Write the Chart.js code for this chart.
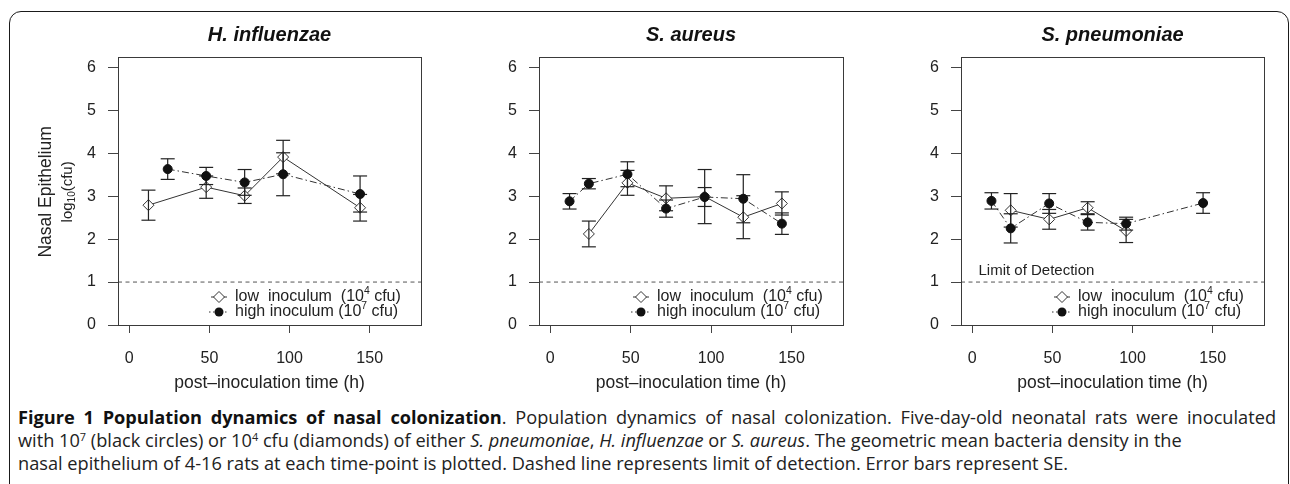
<!DOCTYPE html>
<html><head><meta charset="utf-8">
<script src="https://cdn.jsdelivr.net/npm/chart.js@4.4.1/dist/chart.umd.min.js"></script>
<style>
html,body{margin:0;padding:0;background:#fff;}
body{width:1290px;height:484px;position:relative;overflow:hidden;}
#frame{position:absolute;left:9px;top:11px;width:1280px;height:540px;border:1.5px solid #1a1a1a;border-radius:12px;box-sizing:border-box;}
.panel{position:absolute;top:0;width:430px;height:400px;}
.panel canvas{display:block;}
#caption{position:absolute;left:18px;top:406px;font-family:'Open Sans',sans-serif;font-size:15.5px;line-height:23px;color:#222;white-space:nowrap;}
#caption sup{font-size:0.6em;vertical-align:0.55em;line-height:0;}
#caption b{font-weight:700;color:#111;}
</style></head>
<body>
<div id="frame"></div>
<div class="panel" style="left:0px"><canvas id="c1" width="430" height="400"></canvas></div>
<div class="panel" style="left:430px"><canvas id="c2" width="430" height="400"></canvas></div>
<div class="panel" style="left:860px"><canvas id="c3" width="430" height="400"></canvas></div>
<div id="caption">
<div><span id="l1"><b>Figure 1 Population dynamics of nasal colonization</b>. Population dynamics of nasal colonization. Five-day-old neonatal rats were inoculated</span></div>
<div><span id="l2">with 10<sup>7</sup> (black circles) or 10<sup>4</sup> cfu (diamonds) of either <i>S. pneumoniae</i>, <i>H. influenzae</i> or <i>S. aureus</i>. The geometric mean bacteria density in the</span></div>
<div><span id="l3">nasal epithelium of 4-16 rats at each time-point is plotted. Dashed line represents limit of detection. Error bars represent SE.</span></div>
</div>
<script>
// ---------------- data ----------------
const panelTitles = ['H. influenzae', 'S. aureus', 'S. pneumoniae'];
const xTicks = [0, 50, 100, 150];
const yTicks = [0, 1, 2, 3, 4, 5, 6];
const limitOfDetection = 1;
const xAxisTitle = 'post\u2013inoculation time (h)';
const yAxisTitle = 'Nasal Epithelium';
const legendLow = ['low  inoculum  (10', '4', ' cfu)'];
const legendHigh = ['high inoculum (10', '7', ' cfu)'];
const lodLabel = 'Limit of Detection';

// H. influenzae
const hinfLowTime  = [12, 48, 72, 96, 144];
const hinfLowMean  = [2.79, 3.21, 3.01, 3.91, 2.73];
const hinfLowSE    = [0.35, 0.26, 0.18, 0.39, 0.31];
const hinfHighTime = [24, 48, 72, 96, 144];
const hinfHighMean = [3.63, 3.47, 3.32, 3.51, 3.05];
const hinfHighSE   = [0.24, 0.20, 0.30, 0.50, 0.42];
// S. aureus
const saurLowTime  = [24, 48, 72, 96, 120, 144];
const saurLowMean  = [2.12, 3.31, 2.95, 2.99, 2.51, 2.83];
const saurLowSE    = [0.30, 0.29, 0.29, 0.63, 0.50, 0.27];
const saurHighTime = [12, 24, 48, 72, 96, 120, 144];
const saurHighMean = [2.88, 3.29, 3.51, 2.71, 2.98, 2.94, 2.36];
const saurHighSE   = [0.18, 0.12, 0.29, 0.20, 0.22, 0.56, 0.25];
// S. pneumoniae
const spneLowTime  = [24, 48, 72, 96];
const spneLowMean  = [2.67, 2.46, 2.73, 2.19];
const spneLowSE    = [0.39, 0.23, 0.14, 0.27];
const spneHighTime = [12, 24, 48, 72, 96, 144];
const spneHighMean = [2.89, 2.25, 2.83, 2.39, 2.36, 2.84];
const spneHighSE   = [0.19, 0.34, 0.23, 0.18, 0.15, 0.24];

// ---------------- helpers ----------------
const FONT = "'Liberation Sans', Arial, Helvetica, sans-serif";
const X_MIN = -7, X_MAX = 182, Y_MIN = 0, Y_MAX = 6.24;
const pts = (t, m) => t.map((x, i) => ({x, y: m[i]}));
function stems(t, m, se) {
  const out = [];
  t.forEach((x, i) => { out.push({x, y: m[i] - se[i]}, {x, y: m[i] + se[i]}, {x, y: null}); });
  return out;
}
function caps(t, m, se) {
  const out = [];
  t.forEach((x, i) => { out.push({x, y: m[i] - se[i]}, {x, y: m[i] + se[i]}); });
  return out;
}

function drawParts(ctx, x, y, parts, size) {
  let cx = x;
  parts.forEach((p, i) => {
    const sup = i === 1;
    ctx.font = (sup ? size * 0.65 : size) + 'px ' + FONT;
    ctx.fillText(p, cx, sup ? y - size * 0.38 : y);
    cx += ctx.measureText(p).width;
  });
}

const panelPlugin = {
  id: 'panelExtras',
  afterDatasetsDraw(chart, args, opts) {
    const ctx = chart.ctx;
    const {left, right, top, bottom} = chart.chartArea;
    ctx.save();
    // box
    ctx.strokeStyle = '#3a3a3a';
    ctx.lineWidth = 1;
    ctx.setLineDash([]);
    ctx.strokeRect(Math.round(left) + 0.5, Math.round(top) + 0.5, Math.round(right - left), Math.round(bottom - top));
    // legend
    const mx = right - 202, tx = right - 186;
    const y1 = bottom - 28, y2 = bottom - 13;
    ctx.strokeStyle = '#333';
    ctx.lineWidth = 1;
    ctx.beginPath(); ctx.moveTo(mx - 8, y1); ctx.lineTo(mx + 8, y1); ctx.stroke();
    ctx.fillStyle = '#fff';
    ctx.beginPath(); ctx.moveTo(mx - 5.5, y1); ctx.lineTo(mx, y1 - 5.5); ctx.lineTo(mx + 5.5, y1); ctx.lineTo(mx, y1 + 5.5); ctx.closePath(); ctx.fill(); ctx.stroke();
    ctx.setLineDash([1.5, 2.5]);
    ctx.beginPath(); ctx.moveTo(mx - 10, y2); ctx.lineTo(mx + 10, y2); ctx.stroke();
    ctx.setLineDash([]);
    ctx.fillStyle = '#111';
    ctx.beginPath(); ctx.arc(mx, y2, 4.5, 0, Math.PI * 2); ctx.fill();
    ctx.fillStyle = '#222';
    ctx.textBaseline = 'middle';
    ctx.textAlign = 'left';
    drawParts(ctx, tx, y1, legendLow, 16);
    drawParts(ctx, tx, y2, legendHigh, 16);
    // limit of detection label
    if (opts.lod) {
      ctx.font = '15px ' + FONT;
      const xs = chart.scales.x, ys = chart.scales.y;
      ctx.fillText(lodLabel, xs.getPixelForValue(3.9), ys.getPixelForValue(1.26));
    }
    // y axis title
    if (opts.yTitle) {
      const ys = chart.scales.y;
      const cy = ys.getPixelForValue(3.1);
      ctx.save();
      ctx.translate(46, cy);
      ctx.rotate(-Math.PI / 2);
      ctx.textAlign = 'center';
      ctx.font = '17.5px ' + FONT;
      ctx.fillText(yAxisTitle, 0, 0);
      ctx.restore();
      ctx.save();
      ctx.translate(68, cy);
      ctx.rotate(-Math.PI / 2);
      ctx.textAlign = 'left';
      ctx.font = '15px ' + FONT;
      const w1 = ctx.measureText('log').width;
      const w3 = ctx.measureText('(cfu)').width;
      ctx.font = '10px ' + FONT;
      const w2 = ctx.measureText('10').width;
      let sx = -(w1 + w2 + w3) / 2;
      ctx.font = '15px ' + FONT; ctx.fillText('log', sx, 0); sx += w1;
      ctx.font = '10px ' + FONT; ctx.fillText('10', sx, 4); sx += w2;
      ctx.font = '15px ' + FONT; ctx.fillText('(cfu)', sx, 0);
      ctx.restore();
    }
    ctx.restore();
  }
};

function makePanel(id, title, low, high, yW, rightPad, extras) {
  const datasets = [
    {label: 'high', data: pts(high.t, high.m), showLine: false, pointStyle: 'circle', pointRadius: 4.5,
     pointBackgroundColor: '#111', pointBorderColor: '#111', pointBorderWidth: 1, order: 0},
    {label: 'capsLow', data: caps(low.t, low.m, low.se), showLine: false, pointStyle: 'line', pointRadius: 7,
     pointBorderColor: '#222', pointBorderWidth: 1.2, order: 1},
    {label: 'capsHigh', data: caps(high.t, high.m, high.se), showLine: false, pointStyle: 'line', pointRadius: 7,
     pointBorderColor: '#222', pointBorderWidth: 1.2, order: 1},
    {label: 'stemsLow', data: stems(low.t, low.m, low.se), borderColor: '#222', borderWidth: 1.2, pointRadius: 0, spanGaps: false, order: 2},
    {label: 'stemsHigh', data: stems(high.t, high.m, high.se), borderColor: '#222', borderWidth: 1.2, pointRadius: 0, spanGaps: false, order: 2},
    {label: 'low', data: pts(low.t, low.m), showLine: false, pointStyle: 'rectRot', pointRadius: 5.5,
     pointBackgroundColor: '#fff', pointBorderColor: '#333', pointBorderWidth: 1, order: 3},
    {label: 'lowLine', data: pts(low.t, low.m), borderColor: '#333', borderWidth: 1, pointRadius: 0, order: 4},
    {label: 'highLine', data: pts(high.t, high.m), borderColor: '#333', borderWidth: 1, borderDash: [7, 3, 1.5, 3], pointRadius: 0, order: 4},
    {label: 'lod', data: [{x: X_MIN, y: limitOfDetection}, {x: X_MAX, y: limitOfDetection}], borderColor: '#555', borderWidth: 1, borderDash: [4, 3.5], pointRadius: 0, order: 5}
  ];
  return new Chart(document.getElementById(id), {
    type: 'line',
    data: {datasets},
    plugins: [panelPlugin],
    options: {
      responsive: false, animation: false, events: [],
      layout: {padding: {left: 0, right: rightPad, top: 0, bottom: 0}},
      plugins: {
        legend: {display: false}, tooltip: {enabled: false},
        title: {display: true, text: title, fullSize: false, color: '#111',
          font: {family: FONT, size: 20, style: 'italic', weight: 'bold'}, padding: {top: 23, bottom: 10}},
        panelExtras: extras
      },
      scales: {
        x: {type: 'linear', min: X_MIN, max: X_MAX,
          afterBuildTicks: s => { s.ticks = xTicks.map(v => ({value: v})); },
          afterFit: s => { s.height = 75; },
          grid: {drawOnChartArea: false, drawTicks: true, tickLength: 8, color: '#444', lineWidth: 1},
          border: {display: false},
          ticks: {padding: 16, color: '#222', font: {family: FONT, size: 16}, maxRotation: 0, autoSkip: false},
          title: {display: true, text: xAxisTitle, color: '#222', font: {family: FONT, size: 17.5}, padding: {top: 0, bottom: 6}}
        },
        y: {type: 'linear', min: Y_MIN, max: Y_MAX,
          afterBuildTicks: s => { s.ticks = yTicks.map(v => ({value: v})); },
          afterFit: s => { s.width = yW; },
          grid: {drawOnChartArea: false, drawTicks: true, tickLength: 10, color: '#444', lineWidth: 1},
          border: {display: false},
          ticks: {padding: 12, color: '#222', font: {family: FONT, size: 16}}
        }
      }
    }
  });
}

makePanel('c1', panelTitles[0],
  {t: hinfLowTime, m: hinfLowMean, se: hinfLowSE}, {t: hinfHighTime, m: hinfHighMean, se: hinfHighSE},
  118, 9, {yTitle: true, lod: false});
makePanel('c2', panelTitles[1],
  {t: saurLowTime, m: saurLowMean, se: saurLowSE}, {t: saurHighTime, m: saurHighMean, se: saurHighSE},
  109, 17, {yTitle: false, lod: false});
makePanel('c3', panelTitles[2],
  {t: spneLowTime, m: spneLowMean, se: spneLowSE}, {t: spneHighTime, m: spneHighMean, se: spneHighSE},
  101, 26, {yTitle: false, lod: true});

// caption: size from line 2 natural width, line 1 justified to full width
(function fitCaption() {
  const cap = document.getElementById('caption');
  const l1 = document.getElementById('l1'), l2 = document.getElementById('l2');
  const fs = parseFloat(getComputedStyle(cap).fontSize);
  const w2 = l2.getBoundingClientRect().width;
  cap.style.fontSize = (fs * 1165 / w2).toFixed(2) + 'px';
  const w1 = l1.getBoundingClientRect().width;
  const spaces = (l1.textContent.match(/ /g) || []).length;
  l1.style.wordSpacing = ((1258 - w1) / spaces).toFixed(2) + 'px';
})();
</script>
</body></html>
